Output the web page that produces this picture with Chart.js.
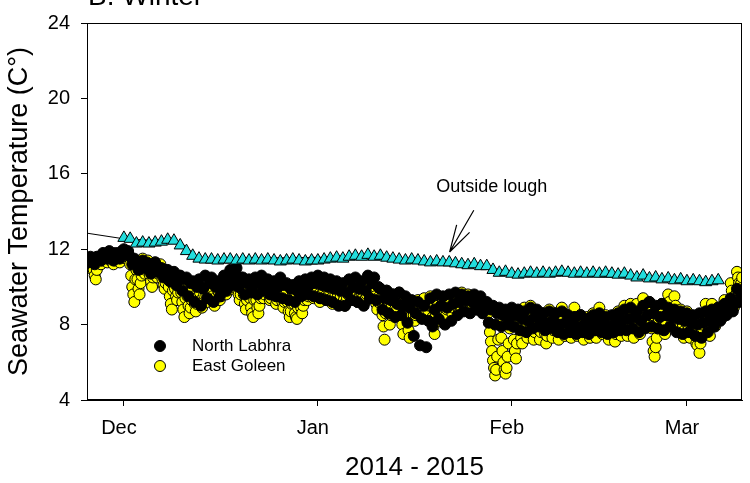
<!DOCTYPE html>
<html lang="en">
<head>
<meta charset="UTF-8">
<script src="https://cdn.jsdelivr.net/npm/chart.js"></script>
<style>
    body { margin: 0; background: #fff; }
    #wrap { width: 750px; height: 483px; }
</style>
</head>
<body>
<div id="wrap"><canvas id="chart" width="750" height="483"></canvas></div>
<script>
    // x values are days counted from 1 Dec 2014
    var monthTicks = [0, 31, 62, 90];
    var monthLabels = ['Dec', 'Jan', 'Feb', 'Mar'];
    var tempTicks = [4, 8, 12, 16, 20, 24];

    // loggers start 25 Nov (-6)
    var loggerFirstDay = -6;

    // North Labhra: 3 readings a day
    var northPerDay = 3;
    var northLabhra = [
        11.5,11.3,11.6, 11.4,11.2,11.6, 11.6,11.4,11.8, 11.7,11.5,11.9, 11.6,11.4,11.8, 11.7,11.5,11.9, 12.0,11.8,11.9,
        11.6,11.2,11.5, 11.3,10.9,11.2, 11.4,11.0,11.3, 11.2,10.7,11.1, 11.3,10.8,11.0, 11.0,10.5,10.9, 10.9,10.3,10.7,
        10.8,10.1,10.6, 10.6,9.8,10.4, 10.5,9.5,10.2, 10.3,9.2,10.0, 10.4,9.0,9.9, 10.6,9.4,10.2, 10.5,9.2,10.0,
        10.3,9.5,10.1, 10.6,9.8,10.4, 10.9,10.1,10.6, 11.0,10.0,10.5, 10.5,9.6,10.2, 10.4,9.7,10.1, 10.5,9.6,10.2,
        10.6,9.8,10.3, 10.4,9.6,10.1, 10.3,9.5,10.0, 10.5,9.4,10.1, 10.2,9.3,9.9, 10.1,9.2,9.8, 10.3,9.5,10.0,
        10.4,9.6,10.1, 10.5,9.5,10.2, 10.6,9.4,10.1, 10.5,9.3,10.0, 10.4,9.2,9.9, 10.3,9.0,9.8, 10.2,9.0,9.7,
        10.4,9.3,10.0, 10.5,9.2,9.9, 10.3,9.0,9.8, 10.6,9.4,10.2, 10.5,9.3,10.0, 9.9,8.8,9.4, 9.8,8.6,9.3,
        9.6,8.4,9.1, 9.7,8.5,9.0, 9.5,8.1,8.9, 9.3,7.4,8.6, 9.2,6.9,8.3, 9.0,6.8,8.2, 9.4,7.9,8.8,
        9.6,8.3,9.0, 9.5,8.0,8.9, 9.6,8.2,9.1, 9.7,8.5,9.2, 9.6,8.7,9.3, 9.5,8.6,9.2, 9.6,8.8,9.3,
        9.5,8.6,9.1, 9.2,8.1,8.8, 9.0,8.0,8.6, 8.9,7.9,8.5, 8.8,8.0,8.4, 8.9,7.9,8.5, 8.8,7.7,8.3,
        8.7,7.6,8.2, 8.9,7.8,8.4, 8.8,7.9,8.3, 8.6,7.7,8.1, 8.7,7.8,8.2, 8.6,7.6,8.0, 8.7,7.5,8.1,
        8.5,7.6,8.0, 8.4,7.5,7.9, 8.5,7.6,8.0, 8.3,7.5,7.9, 8.5,7.7,8.1, 8.6,7.6,8.0, 8.4,7.5,7.9,
        8.5,7.6,8.1, 8.6,7.7,8.2, 8.8,7.7,8.3, 8.9,7.8,8.4, 8.7,7.6,8.2, 9.0,7.8,8.5, 9.2,7.9,8.6,
        9.0,7.8,8.4, 9.1,7.7,8.5, 8.9,7.9,8.4, 8.8,7.6,8.3, 8.7,7.5,8.2, 8.6,7.6,8.1, 8.5,7.4,8.0,
        8.6,7.3,8.1, 8.7,7.6,8.2, 8.8,7.9,8.4, 8.9,8.2,8.6, 9.1,8.5,8.8, 9.4,8.7,9.1, 9.9,9.2,9.6
    ];

    // East Goleen: 6 readings a day, 3 days per row
    var goleenPerDay = 6;
    var eastGoleen = [
        11.4,11.2,11.0,11.1,11.3,11.5, 11.2,10.9,10.6,10.4,10.9,11.3, 11.5,11.3,11.2,11.4,11.6,11.5,
        11.6,11.4,11.3,11.5,11.7,11.6, 11.5,11.3,11.2,11.4,11.6,11.5, 11.6,11.4,11.3,11.6,11.8,11.7,
        11.8,11.6,11.5,11.7,11.8,11.6, 11.2,10.6,10.0,9.6,9.2,10.4, 10.9,10.4,9.9,9.6,10.2,10.6,
        11.5,11.1,10.7,10.9,11.2,11.4, 11.0,10.6,10.3,10.0,10.5,10.8, 11.3,10.9,10.5,10.7,11.0,11.2,
        10.7,10.4,10.1,9.9,10.2,10.5, 10.5,10.0,9.5,9.1,8.8,9.8, 10.4,9.9,9.5,9.3,9.7,10.0,
        10.2,9.7,9.2,8.8,8.4,9.4, 10.0,9.5,9.0,8.6,8.9,9.3, 9.9,9.5,9.1,8.7,9.1,9.5,
        10.1,9.7,9.3,8.9,9.2,9.6, 9.9,9.6,9.2,9.4,9.7,9.8, 9.8,9.5,9.2,9.0,9.3,9.5,
        10.0,9.7,9.3,9.5,9.7,9.9, 10.2,9.9,9.6,9.8,10.0,10.1, 10.4,10.1,9.9,10.0,10.2,10.3,
        10.3,9.9,9.6,9.3,9.6,9.9, 10.1,9.6,9.1,8.8,9.3,9.7, 9.9,9.4,8.9,8.6,8.4,9.3,
        9.8,9.3,8.9,8.6,9.0,9.4, 10.0,9.7,9.4,9.6,9.8,9.9, 9.9,9.6,9.3,9.4,9.6,9.7,
        9.8,9.5,9.1,9.3,9.5,9.6, 9.9,9.5,9.2,8.9,9.2,9.5, 9.7,9.2,8.7,8.4,8.7,9.1,
        9.6,9.1,8.6,8.4,8.3,8.9, 9.7,9.3,8.9,8.6,9.0,9.3, 9.9,9.6,9.3,9.5,9.7,9.8,
        10.0,9.7,9.4,9.5,9.7,9.9, 9.9,9.6,9.2,9.4,9.6,9.7, 9.8,9.5,9.3,9.4,9.5,9.7,
        9.7,9.4,9.1,9.2,9.4,9.6, 9.8,9.5,9.2,9.3,9.5,9.7, 9.7,9.3,9.0,9.2,9.4,9.6,
        9.9,9.6,9.3,9.4,9.6,9.8, 9.8,9.5,9.2,9.3,9.5,9.7, 9.7,9.4,9.1,9.2,9.4,9.6,
        10.0,9.7,9.4,9.5,9.7,9.9, 9.9,9.5,9.1,8.8,9.2,9.5, 9.9,9.2,8.5,7.9,7.2,8.6,
        9.8,9.2,8.6,8.0,8.5,9.0, 9.6,9.2,8.8,8.5,8.8,9.1, 9.7,9.1,8.5,8.0,7.5,8.6,
        9.4,8.8,8.2,7.7,7.3,8.4, 9.2,8.8,8.5,8.2,8.5,8.8, 9.3,8.9,8.6,8.4,8.7,8.9,
        9.4,9.0,8.6,8.3,8.7,9.0, 9.5,9.0,8.4,7.9,7.5,8.6, 9.4,9.0,8.6,8.2,8.6,8.9,
        9.3,9.0,8.7,8.5,8.8,9.0, 9.5,9.2,8.9,8.6,8.9,9.1, 9.6,9.3,9.0,8.8,9.0,9.2,
        9.7,9.4,9.2,9.0,9.2,9.4, 9.6,9.3,9.1,8.9,9.1,9.3, 9.5,9.2,9.0,8.8,9.0,9.2,
        9.3,9.0,8.8,8.6,8.8,9.0, 9.0,8.6,8.1,7.6,7.1,6.6, 6.1,5.7,5.3,5.6,6.3,7.2,
        8.7,8.0,7.3,6.6,6.0,5.6, 5.4,5.7,6.3,7.0,7.8,8.5, 8.6,7.9,7.2,6.6,6.2,7.0,
        8.7,8.2,7.7,7.3,7.0,8.0, 8.9,8.4,7.9,7.3,7.6,8.1, 9.0,8.4,7.8,7.2,7.6,8.3,
        8.7,8.2,7.7,7.2,7.6,8.1, 8.6,8.0,7.5,7.0,7.4,7.9, 8.8,8.3,7.8,7.3,7.7,8.1,
        8.6,8.1,7.6,7.2,7.6,8.0, 8.9,8.4,7.9,7.4,7.8,8.2, 8.5,8.0,7.6,7.3,7.6,7.9,
        8.9,8.4,7.9,7.4,7.7,8.1, 8.5,8.0,7.6,7.2,7.6,8.0, 8.4,8.0,7.7,7.3,7.7,8.0,
        8.6,8.1,7.7,7.3,7.7,8.1, 8.9,8.4,8.0,7.5,7.9,8.3, 8.5,8.0,7.6,7.2,7.6,8.0,
        8.4,7.9,7.5,7.1,7.5,7.9, 8.7,8.2,7.8,7.4,7.8,8.2, 9.0,8.5,7.9,7.4,7.8,8.3,
        9.1,8.5,7.9,7.3,7.8,8.4, 9.1,8.6,8.0,7.5,7.9,8.4, 9.4,9.0,8.5,7.9,8.2,8.7,
        9.2,8.5,7.8,7.1,6.6,6.3, 6.8,7.3,7.8,8.3,8.6,8.9, 9.1,8.6,8.1,7.5,8.0,8.5,
        9.6,9.2,8.7,8.0,8.4,8.8, 9.5,9.0,8.4,7.7,8.0,8.4, 8.8,8.3,7.9,7.3,7.7,8.1,
        8.7,8.2,7.8,7.3,7.7,8.1, 8.4,7.9,7.5,7.0,6.9,7.7, 6.5,7.0,7.6,8.0,8.4,8.3,
        9.1,8.7,8.2,7.8,7.4,8.4, 9.1,8.7,8.3,7.9,8.3,8.7, 8.9,8.7,8.5,8.3,8.6,8.8,
        9.3,9.1,8.9,8.7,8.9,9.0, 10.2,9.8,9.4,8.9,9.3,9.6, 10.8,10.5,10.2,9.8,10.2,10.5
    ];

    // outside lough: one reading a day from 1 Dec
    var outsideFirstDay = 0;
    var outsideLough = [
        12.6, 12.55, 12.3, 12.35, 12.3, 12.35, 12.4, 12.5, 12.45, 12.2,
        11.9, 11.65, 11.5, 11.45, 11.45, 11.4, 11.45, 11.45, 11.4, 11.45,
        11.4, 11.45, 11.4, 11.45, 11.4, 11.35, 11.4, 11.45, 11.4, 11.35,
        11.4, 11.4, 11.45, 11.5, 11.55, 11.5, 11.6, 11.65, 11.6, 11.7,
        11.6, 11.65, 11.55, 11.5, 11.45, 11.4, 11.45, 11.4, 11.35, 11.3,
        11.35, 11.3, 11.3, 11.25, 11.2, 11.15, 11.2, 11.1, 11.1, 10.9,
        10.75, 10.8, 10.7, 10.65, 10.7, 10.75, 10.7, 10.75, 10.7, 10.75,
        10.8, 10.75, 10.7, 10.75, 10.7, 10.75, 10.7, 10.75, 10.7, 10.65,
        10.7, 10.6, 10.5, 10.6, 10.45, 10.5, 10.4, 10.45, 10.35, 10.4,
        10.3, 10.35, 10.3, 10.25, 10.3, 10.35
    ];

    // thin fitted line under the outside lough series
    var trendDays = [-5.9, 0, 9, 12, 40, 58, 62, 95];
    var trendTemps = [12.85, 12.55, 12.4, 11.5, 11.6, 11.1, 10.7, 10.3];

    var FONT = "'Liberation Sans', Arial, sans-serif";
    Chart.defaults.font.family = FONT;
    Chart.defaults.color = '#000';

    var toPoints = function (vals, first, perDay) {
        return vals.map((v, i) => ({ x: first + i / perDay, y: v }));
    };

    var extras = {
        id: 'extras',
        afterDraw: function (chart) {
            var ctx = chart.ctx;
            var a = chart.chartArea;
            var xs = chart.scales.x, ys = chart.scales.y;
            ctx.save();
            // box round the plot
            ctx.strokeStyle = '#000';
            ctx.lineWidth = 1;
            ctx.strokeRect(Math.round(a.left) + 0.5, Math.round(a.top) + 0.5,
                Math.round(a.right - a.left) - 1, Math.round(a.bottom - a.top) - 1);

            // panel title, cut off by the top edge like the original
            ctx.fillStyle = '#000';
            ctx.textAlign = 'left';
            ctx.textBaseline = 'alphabetic';
            ctx.font = '28px ' + FONT;
            ctx.fillText('B. Winter', a.left + 1, 5);

            // legend inside the plot
            var items = [chart.data.datasets[1], chart.data.datasets[2]];
            ctx.font = '17px ' + FONT;
            ctx.textBaseline = 'middle';
            items.forEach(function (ds, i) {
                var cy = a.bottom - 54 + i * 20;
                ctx.beginPath();
                ctx.arc(a.left + 73, cy, 5.5, 0, Math.PI * 2);
                ctx.fillStyle = ds.backgroundColor;
                ctx.fill();
                ctx.strokeStyle = '#000';
                ctx.stroke();
                ctx.fillStyle = '#000';
                ctx.fillText(ds.label, a.left + 105, cy);
            });

            // "Outside lough" label and arrow
            ctx.textAlign = 'center';
            ctx.font = '18px ' + FONT;
            ctx.fillText('Outside lough', xs.getPixelForValue(58.8), ys.getPixelForValue(15.3));
            var tx = xs.getPixelForValue(52.06), ty = ys.getPixelForValue(11.85);
            var sx = xs.getPixelForValue(55.93), sy = ys.getPixelForValue(14.07);
            var ang = Math.atan2(sy - ty, sx - tx);
            ctx.beginPath();
            ctx.moveTo(sx, sy);
            ctx.lineTo(tx, ty);
            [-0.27, 0.27].forEach(function (d) {
                ctx.moveTo(tx, ty);
                ctx.lineTo(tx + 28 * Math.cos(ang + d), ty + 28 * Math.sin(ang + d));
            });
            ctx.strokeStyle = '#000';
            ctx.lineWidth = 1.2;
            ctx.stroke();
            ctx.restore();
        }
    };

    new Chart(document.getElementById('chart'), {
        type: 'scatter',
        data: {
            datasets: [
                {
                    label: 'Outside lough',
                    data: toPoints(outsideLough, outsideFirstDay, 1),
                    pointStyle: 'triangle',
                    pointRadius: 7,
                    backgroundColor: '#22DDDD',
                    borderColor: '#000',
                    borderWidth: 1,
                    order: 0
                },
                {
                    label: 'North Labhra',
                    data: toPoints(northLabhra, loggerFirstDay, northPerDay),
                    pointRadius: 5.5,
                    backgroundColor: '#000',
                    borderColor: '#000',
                    borderWidth: 1,
                    clip: 0,
                    order: 1
                },
                {
                    label: 'East Goleen',
                    data: toPoints(eastGoleen, loggerFirstDay, goleenPerDay),
                    pointRadius: 5.5,
                    backgroundColor: '#FFFF00',
                    borderColor: '#000',
                    borderWidth: 1,
                    clip: 0,
                    order: 2
                },
                {
                    label: 'trend',
                    data: trendDays.map((d, i) => ({ x: d, y: trendTemps[i] })),
                    showLine: true,
                    pointRadius: 0,
                    borderColor: '#000',
                    borderWidth: 1,
                    order: 3
                }
            ]
        },
        options: {
            responsive: false,
            animation: false,
            layout: { padding: { top: 16, right: 6, left: 0, bottom: 0 } },
            plugins: {
                legend: { display: false },
                tooltip: { enabled: false }
            },
            scales: {
                x: {
                    type: 'linear',
                    min: -5.9,
                    max: 98.8,
                    afterBuildTicks: function (s) { s.ticks = monthTicks.map(v => ({ value: v })); },
                    afterFit: function (s) { s.height = 83; },
                    ticks: {
                        callback: function (v) { return monthLabels[monthTicks.indexOf(v)]; },
                        font: { size: 20 },
                        color: '#000',
                        padding: 10,
                        labelOffset: -5,
                        maxRotation: 0,
                        autoSkip: false
                    },
                    grid: { drawOnChartArea: false, tickLength: 6, color: '#000' },
                    border: { color: '#000' },
                    title: {
                        display: true,
                        text: '2014 - 2015',
                        font: { size: 26 },
                        color: '#000',
                        padding: { top: 0, bottom: 0 }
                    }
                },
                y: {
                    min: 4,
                    max: 24,
                    afterBuildTicks: function (s) { s.ticks = tempTicks.map(v => ({ value: v })); },
                    afterFit: function (s) { s.width = 87; },
                    ticks: { font: { size: 20 }, color: '#000', padding: 11 },
                    grid: { drawOnChartArea: false, tickLength: 6, color: '#000' },
                    border: { color: '#000' },
                    title: {
                        display: true,
                        text: 'Seawater Temperature (C°)',
                        font: { size: 27 },
                        color: '#000',
                        padding: { top: 3, bottom: 0 }
                    }
                }
            }
        },
        plugins: [extras]
    });
</script>
</body>
</html>
